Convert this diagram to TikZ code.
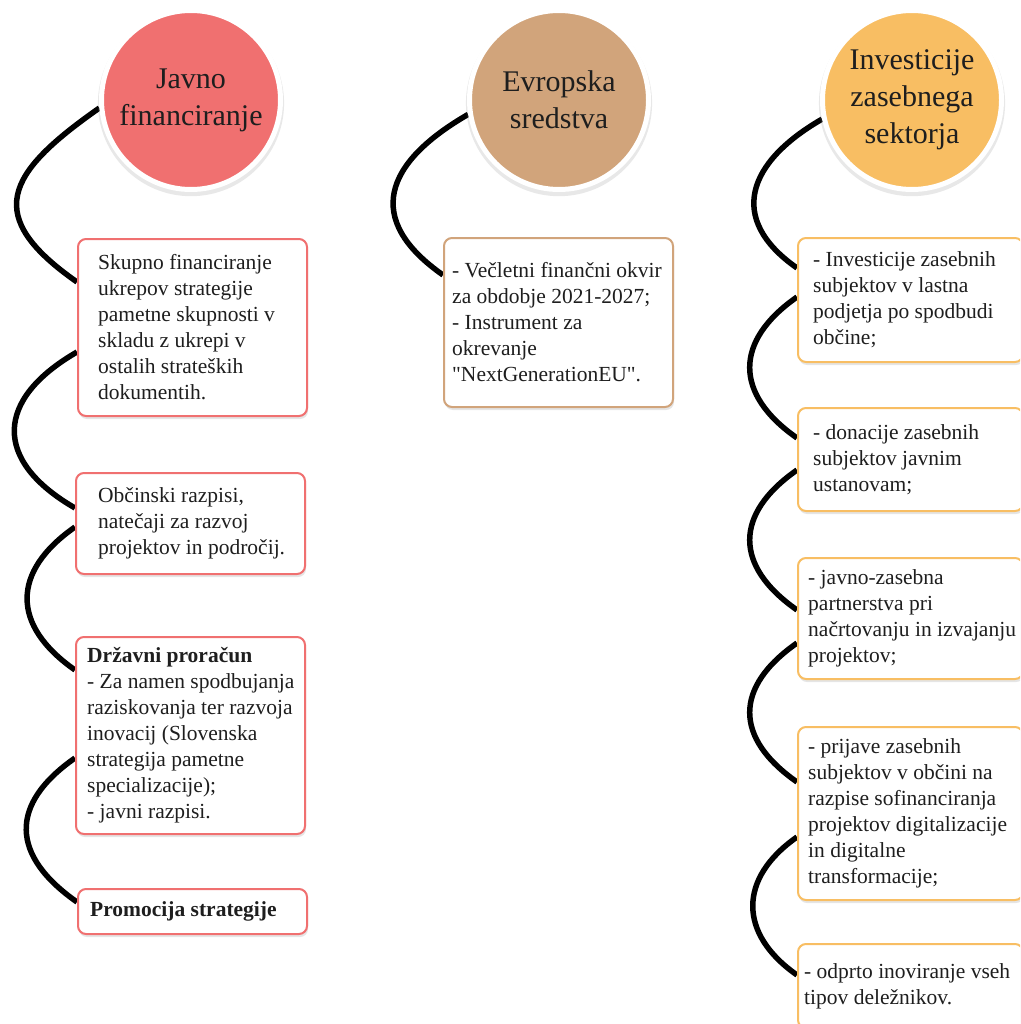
\documentclass[tikz,border=0pt]{standalone}
\usepackage{fontspec}
\setmainfont{Liberation Serif}[Ligatures=TeXOff]
\usetikzlibrary{shadows}
\definecolor{cred}{HTML}{F07070}
\definecolor{ctan}{HTML}{D1A47B}
\definecolor{corange}{HTML}{F8BE63}
\definecolor{ink}{HTML}{1E1E1E}
\newcommand\bxfont{\fontsize{21.5}{26}\selectfont}
\newcommand\ttlfont{\fontsize{30}{37}\selectfont}
\pgfdeclarelayer{bg}
\pgfsetlayers{bg,main}
\tikzset{
  circ/.style={circle, draw=white, line width=5pt, minimum size=179pt, inner sep=0pt,
    text=ink, align=center, font=\ttlfont,
    drop shadow={shadow xshift=0pt, shadow yshift=-3pt, shadow scale=1.04, opacity=.18}},
  box/.style={rectangle, rounded corners=8pt, fill=white, line width=2pt, inner sep=0pt,
    anchor=north west, drop shadow={shadow xshift=1pt, shadow yshift=-3pt, opacity=.2}},
  redbox/.style={box, draw=cred},
  tanbox/.style={box, draw=ctan},
  orbox/.style={box, draw=corange},
  txt/.style={anchor=west, align=left, inner sep=0pt, text=ink, font=\bxfont},
  link/.style={line width=5.5pt, black}
}
\begin{document}
\begin{tikzpicture}[x=1pt, y=-1pt]
\path[use as bounding box] (0,0) rectangle (1020,1024);
\clip (0,0) rectangle (1020,1024);

% circles
\node[circ, fill=cred] (c1) at (191,100) {Javno\\financiranje};
\node[circ, fill=ctan] (c2) at (559,100) {Evropska\\sredstva};
\node[circ, fill=corange] (c3) at (912,100) {Investicije\\zasebnega\\sektorja};

% red column
\node[redbox, minimum width=229pt, minimum height=177pt] (b1) at (77,238) {};
\node[txt] (t1) at ([xshift=21pt]b1.west) {Skupno financiranje\\ukrepov strategije\\pametne skupnosti v\\skladu z ukrepi v\\ostalih strateških\\dokumentih.};
\node[redbox, minimum width=229pt, minimum height=101pt] (b2) at (75,472) {};
\node[txt] (t2) at ([xshift=23pt]b2.west) {Občinski razpisi,\\natečaji za razvoj\\projektov in področij.};
\node[redbox, minimum width=229pt, minimum height=197pt] (b3) at (75,636) {};
\node[txt] (t3) at ([xshift=12pt]b3.west) {\textbf{Državni proračun}\\- Za namen spodbujanja\\raziskovanja ter razvoja\\inovacij (Slovenska\\strategija pametne\\specializacije);\\- javni razpisi.};
\node[redbox, minimum width=229pt, minimum height=45pt] (b4) at (77,888) {};
\node[txt] (t4) at ([xshift=13pt]b4.west) {\textbf{Promocija strategije}};

% tan column
\node[tanbox, minimum width=229pt, minimum height=169pt] (e1) at (443,237) {};
\node[txt] (te1) at ([xshift=9pt]e1.west) {- Večletni finančni okvir\\za obdobje 2021-2027;\\- Instrument za\\okrevanje\\"NextGenerationEU".};

% orange column
\node[orbox, minimum width=225pt, minimum height=124pt] (o1) at (797,237) {};
\node[txt] (to1) at ([xshift=16pt]o1.west) {- Investicije zasebnih\\subjektov v lastna\\podjetja po spodbudi\\občine;};
\node[orbox, minimum width=225pt, minimum height=103pt] (o2) at (797,407) {};
\node[txt] (to2) at ([xshift=16pt]o2.west) {- donacije zasebnih\\subjektov javnim\\ustanovam;};
\node[orbox, minimum width=225pt, minimum height=121pt] (o3) at (797,557) {};
\node[txt] (to3) at ([xshift=11pt]o3.west) {- javno-zasebna\\partnerstva pri\\načrtovanju in izvajanju\\projektov;};
\node[orbox, minimum width=225pt, minimum height=173pt] (o4) at (797,726) {};
\node[txt] (to4) at ([xshift=11pt]o4.west) {- prijave zasebnih\\subjektov v občini na\\razpise sofinanciranja\\projektov digitalizacije\\in digitalne\\transformacije;};
\node[orbox, minimum width=225pt, minimum height=84pt] (o5) at (797,943) {};
\node[txt] (to5) at ([xshift=7pt]o5.west) {- odprto inoviranje vseh\\tipov deležnikov.};

\begin{pgfonlayer}{bg}
\fill[white] (0,0) rectangle (1020,1024);
% red links
\draw[link] (c1.185) .. controls +(215:115pt) and +(145:115pt) .. ([yshift=-44pt]b1.north west);
\draw[link] ([yshift=-114pt]b1.north west) .. controls +(210:95pt) and +(150:95pt) .. ([yshift=-36pt]b2.north west);
\draw[link] ([yshift=-55pt]b2.north west) .. controls +(215:78pt) and +(145:78pt) .. ([yshift=-34pt]b3.north west);
\draw[link] ([yshift=-122pt]b3.north west) .. controls +(215:81pt) and +(145:81pt) .. ([yshift=-14pt]b4.north west);
% tan link
\draw[link] (c2.189) .. controls +(210:97pt) and +(145:97pt) .. ([yshift=-38pt]e1.north west);
% orange links
\draw[link] (c3.192) .. controls +(210:86pt) and +(145:86pt) .. ([yshift=-31pt]o1.north west);
\draw[link] ([yshift=-60pt]o1.north west) .. controls +(215:77pt) and +(145:77pt) .. ([yshift=-31pt]o2.north west);
\draw[link] ([yshift=-63pt]o2.north west) .. controls +(215:77pt) and +(145:77pt) .. ([yshift=-53pt]o3.north west);
\draw[link] ([yshift=-86pt]o3.north west) .. controls +(215:77pt) and +(145:77pt) .. ([yshift=-56pt]o4.north west);
\draw[link] ([yshift=-111pt]o4.north west) .. controls +(215:72pt) and +(145:72pt) .. ([yshift=-32pt]o5.north west);
\end{pgfonlayer}
\end{tikzpicture}
\end{document}
